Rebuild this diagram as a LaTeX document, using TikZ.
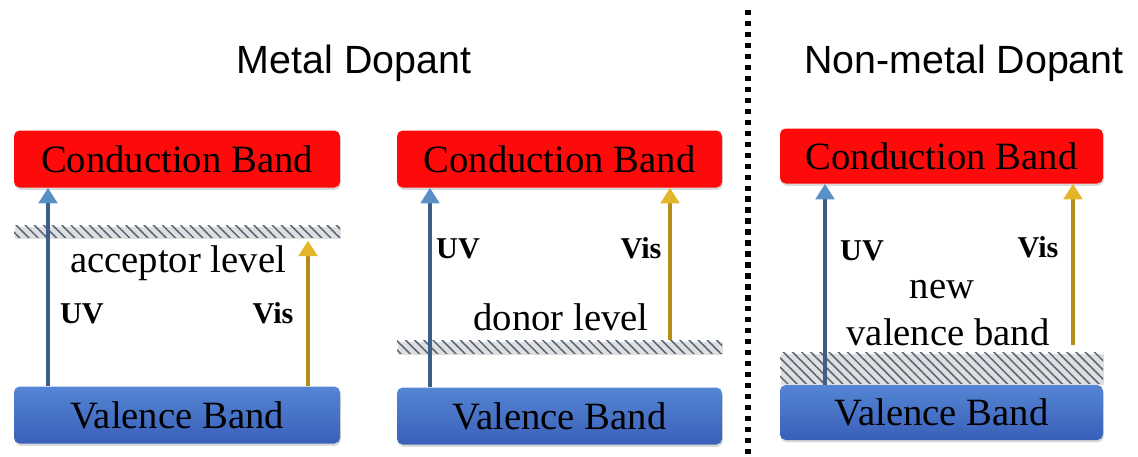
\documentclass[tikz,border=0pt]{standalone}
\usepackage{fontspec}
\setmainfont{Liberation Serif}
\newfontfamily\headfont{Liberation Sans}
\usepackage{xcolor}
\usetikzlibrary{arrows.meta, patterns.meta, shadows, positioning}

\definecolor{cbred}{HTML}{FF0A0A}
\definecolor{vbtop}{HTML}{5585D4}
\definecolor{vbbot}{HTML}{3960B8}
\definecolor{uvshaft}{HTML}{3B5F86}
\definecolor{uvhead}{HTML}{5A90C8}
\definecolor{visshaft}{HTML}{B48C18}
\definecolor{vishead}{HTML}{E2B628}
\definecolor{hatchgray}{HTML}{56677A}

% one reference pixel
\newcommand{\pxu}{0.025cm}

\tikzset{
  bandbox/.style={
    rounded corners=4pt, inner sep=0pt, minimum height=57*\pxu,
    font=\fontsize{27.5}{30}\selectfont, text depth=0pt,
    drop shadow={opacity=0.3, shadow xshift=0.6pt, shadow yshift=-1.6pt}
  },
  condband/.style={bandbox, fill=cbred},
  valband/.style={bandbox, top color=vbtop, bottom color=vbbot},
  hatchlevel/.style={
    inner sep=0pt, preaction={fill=white},
    pattern={Lines[angle=-45, distance=4.6pt, line width=1.1pt]},
    pattern color=hatchgray,
    drop shadow={opacity=0.25, shadow xshift=0.5pt, shadow yshift=-1.2pt}
  },
  levellabel/.style={font=\fontsize{27.5}{30}\selectfont, anchor=base, inner sep=0pt},
  lightlabel/.style={font=\fontsize{21.5}{24}\selectfont\bfseries, anchor=base, inner sep=0pt},
  headlabel/.style={font=\headfont\fontsize{28}{32}\selectfont, anchor=base, inner sep=0pt},
  uvarrow/.style={
    line width=3.3pt, uvshaft,
    -{Triangle[width=13pt, length=11pt, color=uvhead, fill=uvhead]}
  },
  visarrow/.style={
    line width=3.3pt, visshaft,
    -{Triangle[width=13pt, length=11pt, color=vishead, fill=vishead]}
  },
  divider/.style={line width=3.6pt, dash pattern=on 3.8pt off 4pt},
}

\begin{document}
\begin{tikzpicture}[x=\pxu, y=-\pxu]
  \useasboundingbox (0,0) rectangle (1138,456);

  % Headings
  \node[headlabel] (metal) at (354,73) {Metal Dopant};
  \node[headlabel] (nonmetal) at (964,73) {Non-metal Dopant};
  \draw[divider] (748,10) -- (748,456);

  % Panel A: acceptor level
  \node[condband, minimum width=326*\pxu] (cbA) at (177,159) {Conduction Band};
  \node[hatchlevel, minimum width=326*\pxu, minimum height=12*\pxu] (hatchA) at (177,231) {};
  \node[valband, minimum width=326*\pxu] (vbA) at (177,415) {Valence Band};
  \node[levellabel] (accA) at (178,272) {acceptor level};
  \node[lightlabel] (uvlabA) at (82,323) {UV};
  \node[lightlabel] (vislabA) at (273,323) {Vis};
  \coordinate (uvA) at (48,0);
  \coordinate (visA) at (308,0);
  \draw[uvarrow] (uvA |- vbA.north) -- (uvA |- cbA.south);
  \draw[visarrow] (visA |- vbA.north) -- ([yshift=-2pt]visA |- hatchA.south);

  % Panel B: donor level
  \node[condband, minimum width=325*\pxu] (cbB) at (559.5,159) {Conduction Band};
  \node[hatchlevel, minimum width=325*\pxu, minimum height=13*\pxu] (hatchB) at (559.5,347) {};
  \node[valband, minimum width=325*\pxu] (vbB) at (559.5,416) {Valence Band};
  \node[levellabel] (donB) at (561,330) {donor level};
  \node[lightlabel] (uvlabB) at (458,258) {UV};
  \node[lightlabel] (vislabB) at (641,258) {Vis};
  \coordinate (uvB) at (430,0);
  \coordinate (visB) at (670,0);
  \draw[uvarrow] (uvB |- vbB.north) -- (uvB |- cbB.south);
  \draw[visarrow] (visB |- hatchB.north) -- (visB |- cbB.south);

  % Panel C: new valence band
  \node[condband, minimum width=323*\pxu, minimum height=55*\pxu] (cbC) at (941.5,156) {Conduction Band};
  \node[hatchlevel, minimum width=323*\pxu, minimum height=31*\pxu] (hatchC) at (941.5,367.5) {};
  \node[valband, minimum width=323*\pxu, minimum height=55*\pxu] (vbC) at (941.5,412.5) {Valence Band};
  \node[levellabel] (newC) at (942,298) {new};
  \node[levellabel] (nvbC) at (948,345) {valence band};
  \node[lightlabel] (uvlabC) at (862,260) {UV};
  \node[lightlabel] (vislabC) at (1038,257) {Vis};
  \coordinate (uvC) at (825,0);
  \coordinate (visC) at (1073,0);
  \draw[uvarrow] (uvC |- vbC.north) -- (uvC |- cbC.south);
  \draw[visarrow] ([yshift=5pt]visC |- hatchC.north) -- (visC |- cbC.south);
\end{tikzpicture}
\end{document}
